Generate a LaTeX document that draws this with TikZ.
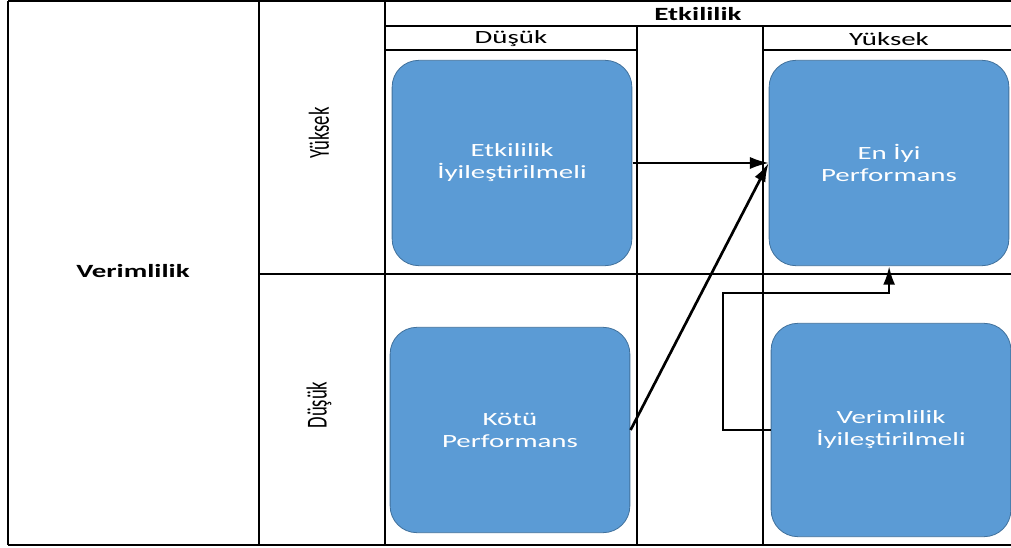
\documentclass[tikz,border=0pt]{standalone}
\usepackage{fontspec}
\setmainfont{Carlito}
\usepackage{tikz}
\usetikzlibrary{positioning,arrows.meta}
\definecolor{kutumavi}{HTML}{5B9BD5}
\definecolor{kenarmavi}{HTML}{41719C}
\tikzset{
  durum/.style   = {shape=rectangle, rounded corners=20pt,
                    draw=kenarmavi, fill=kutumavi, line width=0.6pt,
                    text=white, align=center,
                    minimum width=116pt, minimum height=154pt,
                    font=\fontsize{14}{16.5}\selectfont},
  baslik/.style  = {font=\fontsize{14}{16}\selectfont, inner sep=0pt},
  kalin/.style   = {baslik, font=\fontsize{14}{16}\selectfont\bfseries},
  izgara/.style  = {line width=1.3pt},
  kenar/.style   = {line width=1.7pt},
  ok/.style      = {-{Latex[length=14pt,width=9pt]}, line width=1.2pt},
  kalinok/.style = {-{Latex[length=14pt,width=9pt]}, line width=2pt}
}

\begin{document}
\begin{tikzpicture}
    [
      x                   = 0.48387pt,
      y                   = -0.75pt,
      xscale              = 1.55,
      every node/.style   = {transform shape}
    ]
    \useasboundingbox (0,0) rectangle (1011,548);
    \draw [kenar] (8,1) -- (1014,1);
    \draw [kenar] (8,545) -- (1014,545);
    \draw [izgara] (8,1) -- (8,545);
    \draw [izgara] (259,1) -- (259,545);
    \draw [izgara] (385,1) -- (385,545);
    \draw [izgara] (637,26) -- (637,545);
    \draw [izgara] (763,26) -- (763,545);
    \draw [izgara] (385,26) -- (1014,26);
    \draw [izgara] (385,50) -- (637,50);
    \draw [izgara] (763,50) -- (1014,50);
    \draw [izgara] (259,274) -- (1014,274);

    \node [kalin] (etkililik) at (698,14) {Etkililik};
    \node [baslik] (dusukSutun) at (511,39) {Düşük};
    \node [baslik] (yuksekSutun) at (889,39) {Yüksek};
    \node [kalin] (verimlilik) at (133,271) {Verimlilik};
    \node [baslik, rotate=90] (yuksekSatir) at (319,133) {Yüksek};
    \node [baslik, rotate=90] (dusukSatir) at (319,405) {Düşük};

    \node [durum] (etkIyi) at (512,163) {Etkililik\\İyileştirilmeli};
    \node [durum] (enIyi) at (889,163) {En İyi\\Performans};
    \node [durum] (kotu) at (510,430) {Kötü\\Performans};
    \node [durum, minimum height=160pt] (verIyi) at (891,430)
      {Verimlilik\\İyileştirilmeli};
    \coordinate (donus) at (723,293);

    \draw [ok] (etkIyi.east) -- (etkIyi.east -| enIyi.west);
    \draw [kalinok] (kotu.east) -- (enIyi.west);
    \draw [kalinok] (verIyi.west) -| (donus) -| (enIyi.south);
  \end{tikzpicture}
\end{document}
